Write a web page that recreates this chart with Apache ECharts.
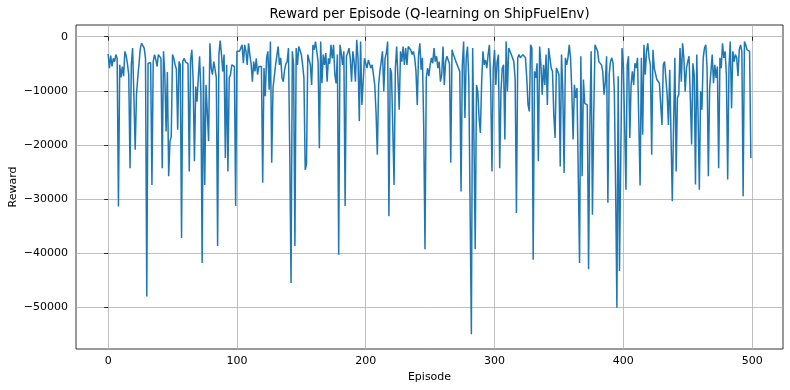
<!DOCTYPE html>
<html><head><meta charset="utf-8">
<script src="https://cdn.jsdelivr.net/npm/echarts@6/dist/echarts.min.js"></script>
<style>html,body{margin:0;padding:0;background:#fff}#c{width:790px;height:390px}</style>
</head><body><div id="c"></div>
<script>
const chartTitle = 'Reward per Episode (Q-learning on ShipFuelEnv)';
const xLabel = 'Episode';
const yLabel = 'Reward';
const xTicks = [0, 100, 200, 300, 400, 500];
const yTicks = [-50000, -40000, -30000, -20000, -10000, 0];
const rewards = [
-3200,-5800,-3500,-5500,-4000,-4600,-3300,-4000,-31400,-5200,
-7500,-5500,-7300,-2700,-3500,-5000,-7000,-24300,-5200,-2100,
-11000,-20900,-10700,-7600,-7300,-2100,-1200,-1500,-2100,-4000,
-48000,-4900,-5200,-4800,-27400,-4600,-3300,-4200,-5500,-3300,
-3300,-4000,-24300,-2700,-7000,-17500,-6500,-25800,-19300,-18500,
-3300,-4000,-5200,-6000,-17200,-4600,-5200,-37200,-4500,-4000,
-4600,-4300,-5000,-24900,-4300,-2400,-8000,-23000,-9200,-12000,
-7600,-3600,-10100,-41800,-5500,-27400,-8900,-8900,-19300,-1200,
-5800,-7000,-4600,-6000,-7600,-38700,-3300,-700,-3300,-6400,
-3300,-22400,-5200,-24900,-7600,-7000,-5200,-5500,-5500,-31300,
-2700,-2700,-2700,-3000,-1500,-4900,-1500,-2700,-5200,-1200,
-3300,-5000,-8300,-4600,-6400,-4000,-7000,-5500,-5800,-5500,
-27000,-5800,-11000,-4000,-2700,-9800,-900,-23300,-9500,-9500,
-5200,-5500,-1800,-5200,-3900,-7600,-8300,-6100,-5000,-4600,
-2100,-21200,-45500,-2700,-5200,-38700,-2100,-5200,-1800,-1500,
-3300,-5200,-7600,-24600,-23600,-3300,-3300,-5200,-8900,-1500,
-2400,-900,-550,-4600,-20600,-900,-8600,-3300,-5200,-3000,
-8300,-4000,-5000,-1500,-4000,-1500,-7000,-8600,-3300,-40300,
-1500,-3000,-5200,-2700,-31300,-3600,-3000,-2100,-4000,-8300,
-2700,-4600,-8300,-550,-4000,-15600,-900,-12600,-8300,-4000,
-4000,-5800,-4300,-4600,-5800,-5200,-5500,-8900,-14000,-21800,
-8900,-6400,-4600,-2700,-10100,-4000,-3000,-900,-33200,-5800,
-6700,-6700,-27400,-5800,-1800,-7600,-13500,-2700,-4600,-1800,
-5200,-2100,-5200,-1800,-2100,-2500,-3300,-2700,-3900,-6400,
-12600,-3300,-1200,-6100,-3900,-16300,-39300,-7600,-5800,-7300,
-5200,-3900,-4900,-2100,-4600,-3600,-5800,-4600,-8300,-7000,
-1800,-8900,-4600,-3600,-3900,-5000,-23300,-2400,-3300,-3900,
-4600,-5200,-5800,-6400,-28600,-5200,-900,-15000,-3900,-1800,
-7600,-7600,-55000,-2100,-18700,-39300,-8900,-10100,-15000,-17800,
-8300,-2700,-5200,-4300,-5800,-3300,-1500,-8900,-24900,-5800,
-2400,-8900,-4600,-3300,-24300,-10100,-5800,-5200,-19000,-900,
-10100,-2100,-2100,-3300,-3300,-4600,-7900,-32600,-3900,-3300,
-3900,-3600,-3300,-3600,-3900,-7600,-12600,-13800,-1500,-2100,
-41200,-6400,-7600,-4900,-23000,-1800,-5200,-10700,-5200,-8900,
-3300,-12600,-2100,-3900,-5800,-6400,-14400,-18700,-5800,-5800,
-7000,-24000,-3300,-10100,-25200,-3900,-5200,-3900,-1500,-3900,
-10100,-19000,-8900,-11300,-9500,-9500,-41800,-3600,-25800,-7900,
-12300,-12000,-12600,-43000,-16300,-2700,-32900,-14400,-1500,-1800,
-2700,-4600,-4600,-5200,-6400,-10700,-8300,-3600,-30700,-7000,
-4600,-3900,-4900,-10100,-28000,-50100,-7300,-43300,-22400,-2100,
-5200,-16300,-28300,-5200,-3600,-18700,-8900,-6400,-8900,-4900,
-5800,-3900,-3900,-27500,-3900,-18100,-1500,-7000,-2700,-1200,
-3900,-5200,-21800,-2400,-5800,-5800,-7900,-7900,-8600,-12600,
-16300,-5200,-4600,-4600,-10700,-16300,-6100,-6400,-30400,-16300,
-3900,-24900,-11300,-10700,-2100,-8300,-1200,-4000,-10100,-5800,
-4600,-3600,-11300,-19900,-4900,-7000,-27300,-3300,-14400,-28300,
-10100,-13500,-3900,-2100,-1500,-5800,-25800,-9500,-6400,-3300,
-8600,-5200,-7600,-5500,-24300,-3900,-5800,-1200,-3900,-2700,
-7000,-26400,-5800,-900,-13200,-2700,-4600,-3300,-3900,-7300,
-2400,-1500,-2700,-29500,-900,-1500,-2400,-2100,-2700,-22400
];

const FONT = 'DejaVu Sans';
const fmt = v => (v < 0 ? '\u2212' + Math.abs(v) : String(v));
const chart = echarts.init(document.getElementById('c'), null, {renderer: 'canvas'});
const tickStyle = {show: true, length: 4, inside: false, lineStyle: {color: '#000', width: 0.8}};
chart.setOption({
  animation: false,
  backgroundColor: '#fff',
  grid: {left: 76, right: 7, top: 25, bottom: 41, containLabel: false, outerBoundsMode: 'none',
         show: true, borderColor: '#000', borderWidth: 0.8, backgroundColor: 'transparent'},
  graphic: [{
    type: 'text', x: 429.5, y: 8, silent: true,
    style: {text: chartTitle, fontSize: 13.2, fontFamily: FONT, fill: '#000', align: 'center', verticalAlign: 'top'}
  }],
  xAxis: {
    type: 'value', min: -24.95, max: 523.95,
    axisLine: {show: false},
    axisTick: Object.assign({customValues: xTicks}, tickStyle),
    axisLabel: {customValues: xTicks, color: '#000', fontSize: 11, fontFamily: FONT, margin: 7, formatter: fmt},
    splitLine: {show: true, lineStyle: {color: '#b0b0b0', width: 0.8}},
    name: xLabel, nameLocation: 'middle', nameGap: 23, nameMoveOverlap: false,
    nameTextStyle: {color: '#000', fontSize: 11, fontFamily: FONT, verticalAlign: 'top'}
  },
  yAxis: {
    type: 'value', min: -57720, max: 2170,
    axisLine: {show: false},
    axisTick: Object.assign({customValues: yTicks}, tickStyle),
    axisLabel: {customValues: yTicks, color: '#000', fontSize: 11, fontFamily: FONT, margin: 8, formatter: fmt},
    splitLine: {show: true, lineStyle: {color: '#b0b0b0', width: 0.8}},
    name: yLabel, nameLocation: 'middle', nameGap: 57, nameRotate: 90, nameMoveOverlap: false,
    nameTextStyle: {color: '#000', fontSize: 11, fontFamily: FONT}
  },
  series: [{
    type: 'line', data: rewards.map((v, i) => [i, v]),
    showSymbol: false, symbol: 'none',
    lineStyle: {color: '#1f77b4', width: 1.5},
    itemStyle: {color: '#1f77b4'}
  }]
});
</script>
</body></html>
